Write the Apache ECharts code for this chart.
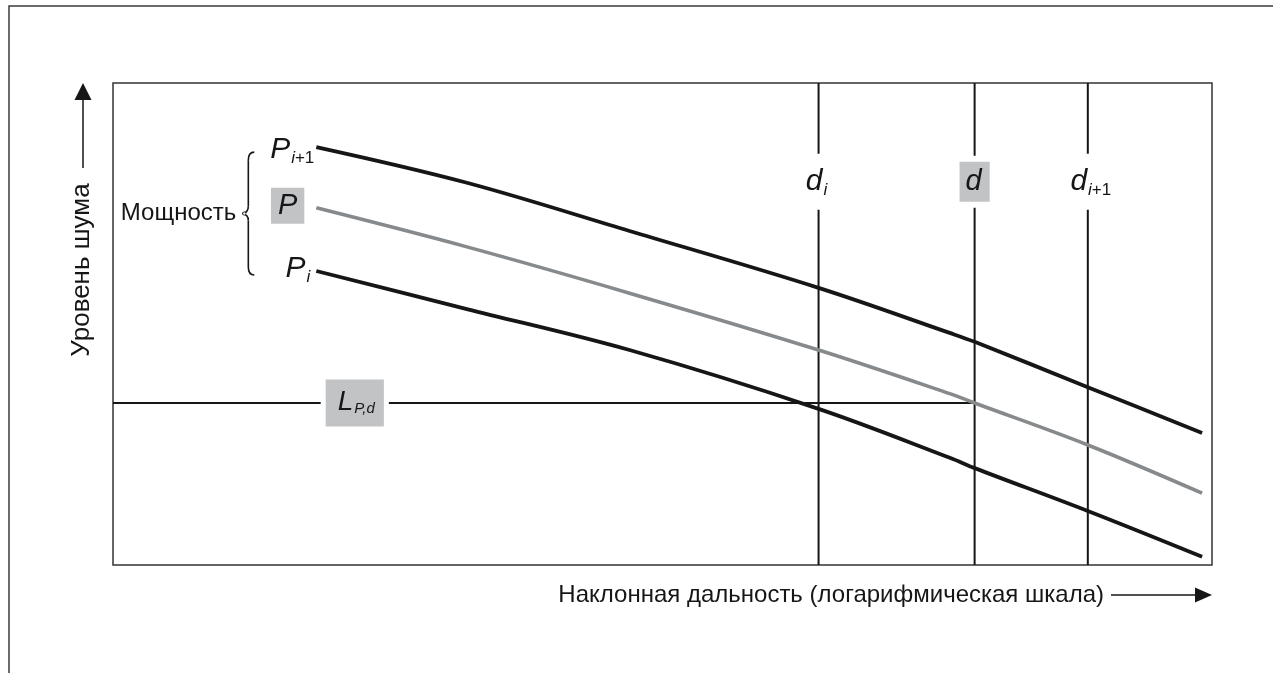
<!DOCTYPE html>
<html>
<head>
<meta charset="utf-8">
<script src="https://cdn.jsdelivr.net/npm/echarts@6/dist/echarts.min.js"></script>
<style>
  html, body { margin: 0; padding: 0; background: #fff; }
  #chart { width: 1274px; height: 673px; }
</style>
</head>
<body>
<div id="chart"></div>
<script>
// Slant distance positions (relative units on a log scale, 0..100 across the plot)
const distX = [18.5, 32.2, 47.0, 64.2, 76.2, 78.4, 88.7, 99.1];
// Noise level curves (relative units, 0..100 up the plot)
const levelHi = [86.7, 79.3, 69.3, 57.5, 48.1, 46.3, 36.9, 27.4];   // P(i+1)
const levelP  = [74.1, 66.0, 56.4, 44.6, 35.5, 33.6, 24.9, 14.9];   // P (interpolated)
const levelLo = [61.0, 53.1, 44.6, 32.4, 22.2, 20.1, 11.2, 1.7];    // P(i)
// Reference distances d(i), d, d(i+1)
const distMarks = [64.2, 78.4, 88.7];
const distLabels = ['{it|d}{sub|i}', '{box|d}', '{it|d}{sub|i}{subn|+1}'];
const distLabelY = 79.5;
// Power labels (top to bottom)
const powerLabels = ['{it|P}{sub|i}{subn|+1}', '{box|P}', '{it|P}{sub|i}'];
// Interpolated level L(P,d) = level of P at distance d
const lpdLevel = levelP[distX.indexOf(distMarks[1])];
const lpdLabelX = 22.0;
const lpdLabel = '{big|L}{sub2|P,d}';

const yTitle = 'Уровень шума';
const xTitle = 'Наклонная дальность (логарифмическая шкала)';
const braceTitle = 'Мощность';

const FONT = '"Liberation Sans", Arial, sans-serif';
const INK = '#161616';
const GREY_LINE = '#868a8c';
const GREY_BOX = '#c2c3c5';

const RICH = {
  it:   { fontFamily: FONT, fontStyle: 'italic', fontSize: 30, color: INK, lineHeight: 32, verticalAlign: 'middle' },
  sub:  { fontFamily: FONT, fontStyle: 'italic', fontSize: 17, color: INK, lineHeight: 17, padding: [16, 0, 0, 1], verticalAlign: 'top' },
  subn: { fontFamily: FONT, fontSize: 17, color: INK, lineHeight: 17, padding: [16, 0, 0, 0], verticalAlign: 'top' },
  box:  { fontFamily: FONT, fontStyle: 'italic', fontSize: 29, color: INK, lineHeight: 30, verticalAlign: 'middle' },
  big:  { fontFamily: FONT, fontStyle: 'italic', fontSize: 28, color: INK, lineHeight: 30, verticalAlign: 'middle' },
  sub2: { fontFamily: FONT, fontStyle: 'italic', fontSize: 15, color: INK, lineHeight: 15, padding: [14, 0, 0, 1], verticalAlign: 'top' }
};

const chart = echarts.init(document.getElementById('chart'), null, { renderer: 'canvas' });

const hiddenAxis = (extra) => Object.assign({
  type: 'value', min: 0, max: 100,
  axisLine: { show: false }, axisTick: { show: false },
  axisLabel: { show: false }, splitLine: { show: false }
}, extra);

const curveSeries = (levels, color, width) => ({
  type: 'line',
  data: distX.map((x, i) => [x, levels[i]]),
  smooth: 0.35,
  symbol: 'none',
  lineStyle: { color: color, width: width, cap: 'butt' },
  z: 4,
  silent: true
});

const vLines = distMarks.map(x => ({
  type: 'line',
  data: [[x, 0], [x, 100]],
  symbol: 'none',
  lineStyle: { color: INK, width: 2 },
  z: 2,
  silent: true
}));

const curves = [levelHi, levelP, levelLo];
const powerLabelDist = [2, 12, 6];

const labelData = [];
distMarks.forEach((x, i) => {
  const boxed = i === 1;
  labelData.push({
    value: [x, distLabelY],
    label: boxed ? {
      formatter: distLabels[i], position: 'inside',
      backgroundColor: GREY_BOX, borderColor: '#fff', borderWidth: 6,
      padding: [5, 8, 5, 6], rich: RICH
    } : {
      formatter: distLabels[i], position: 'inside',
      backgroundColor: '#fff', padding: [12, 5, 12, 5], rich: RICH,
      offset: [i === 0 ? -2 : 3, 0]
    }
  });
});
curves.forEach((lv, i) => {
  const boxed = i === 1;
  labelData.push({
    value: [distX[0], lv[0]],
    label: boxed ? {
      formatter: powerLabels[i], position: 'left', distance: powerLabelDist[i],
      backgroundColor: GREY_BOX, padding: [3, 7, 3, 7], rich: RICH, offset: [0, -2]
    } : {
      formatter: powerLabels[i], position: 'left', distance: powerLabelDist[i],
      rich: RICH, offset: [0, i === 0 ? 3 : -2]
    }
  });
});
labelData.push({
  value: [lpdLabelX, lpdLevel],
  label: {
    formatter: lpdLabel, position: 'inside',
    backgroundColor: GREY_BOX, borderColor: '#fff', borderWidth: 5,
    padding: [8, 9, 9, 12], rich: RICH
  }
});

chart.setOption({
  animation: false,
  backgroundColor: '#fff',
  grid: {
    left: 113, top: 83, right: 62, bottom: 108,
    show: true, borderColor: '#333', borderWidth: 1.5, backgroundColor: 'transparent'
  },
  xAxis: hiddenAxis(),
  yAxis: hiddenAxis(),
  series: [
    ...vLines,
    {
      type: 'line',
      data: [[0, lpdLevel], [distMarks[1], lpdLevel]],
      symbol: 'none',
      lineStyle: { color: INK, width: 2 },
      z: 2,
      silent: true
    },
    curveSeries(levelHi, INK, 3.8),
    curveSeries(levelP, GREY_LINE, 3.6),
    curveSeries(levelLo, INK, 3.8),
    {
      type: 'scatter',
      symbolSize: 0,
      z: 10,
      silent: true,
      itemStyle: { opacity: 1 },
      label: { show: true, opacity: 1, color: INK },
      data: labelData
    }
  ]
});

// Frame, axis titles with arrows, and the brace grouping the power curves
const px = (x, y) => chart.convertToPixel({ gridIndex: 0 }, [x, y]);
const startHi = px(distX[0], levelHi[0]);
const startLo = px(distX[0], levelLo[0]);
const braceTop = startHi[1] + 5;
const braceBot = startLo[1] + 4;
const braceMid = (braceTop + braceBot) / 2;
const bx = startHi[0] - 68;

const braceStyle = { stroke: INK, lineWidth: 1.6, fill: null };
const braceParts = [
  { type: 'bezierCurve', shape: { x1: bx + 6, y1: braceTop, cpx1: bx, cpy1: braceTop, x2: bx, y2: braceTop + 8 }, style: braceStyle },
  { type: 'line', shape: { x1: bx, y1: braceTop + 8, x2: bx, y2: braceMid - 7 }, style: braceStyle },
  { type: 'bezierCurve', shape: { x1: bx, y1: braceMid - 7, cpx1: bx, cpy1: braceMid - 1, x2: bx - 6, y2: braceMid }, style: braceStyle },
  { type: 'bezierCurve', shape: { x1: bx - 6, y1: braceMid, cpx1: bx, cpy1: braceMid + 1, x2: bx, y2: braceMid + 7 }, style: braceStyle },
  { type: 'line', shape: { x1: bx, y1: braceMid + 7, x2: bx, y2: braceBot - 8 }, style: braceStyle },
  { type: 'bezierCurve', shape: { x1: bx, y1: braceBot - 8, cpx1: bx, cpy1: braceBot, x2: bx + 6, y2: braceBot }, style: braceStyle },
  { type: 'circle', shape: { cx: bx - 4, cy: braceMid, r: 1.6 }, style: { stroke: INK, lineWidth: 0.8, fill: '#fff' } }
];

const plotTop = 83, plotRight = 1212;

chart.setOption({
  graphic: [
    { type: 'polyline', shape: { points: [[1273, 6], [9, 6], [9, 673]] },
      style: { stroke: '#3c3c3c', lineWidth: 1.5, fill: null } },
    ...braceParts,
    { type: 'text', x: bx - 12, y: braceMid,
      style: { text: braceTitle, font: '24px ' + FONT, fill: INK, align: 'right', verticalAlign: 'middle' } },
    // vertical axis title and arrow
    { type: 'text', x: 82, y: 270, rotation: Math.PI / 2,
      style: { text: yTitle, font: '26px ' + FONT, fill: INK, align: 'center', verticalAlign: 'middle' } },
    { type: 'line', shape: { x1: 83, y1: 168, x2: 83, y2: 98 },
      style: { stroke: INK, lineWidth: 1.5 } },
    { type: 'polygon', shape: { points: [[83, plotTop], [74.5, plotTop + 17], [91.5, plotTop + 17]] },
      style: { fill: INK } },
    // horizontal axis title and arrow
    { type: 'text', x: 1104, y: 595,
      style: { text: xTitle, font: '24px ' + FONT, fill: INK, align: 'right', verticalAlign: 'middle' } },
    { type: 'line', shape: { x1: 1111, y1: 595, x2: plotRight - 14, y2: 595 },
      style: { stroke: INK, lineWidth: 1.5 } },
    { type: 'polygon', shape: { points: [[plotRight, 595], [plotRight - 17, 587.5], [plotRight - 17, 602.5]] },
      style: { fill: INK } }
  ]
});
</script>
</body>
</html>
